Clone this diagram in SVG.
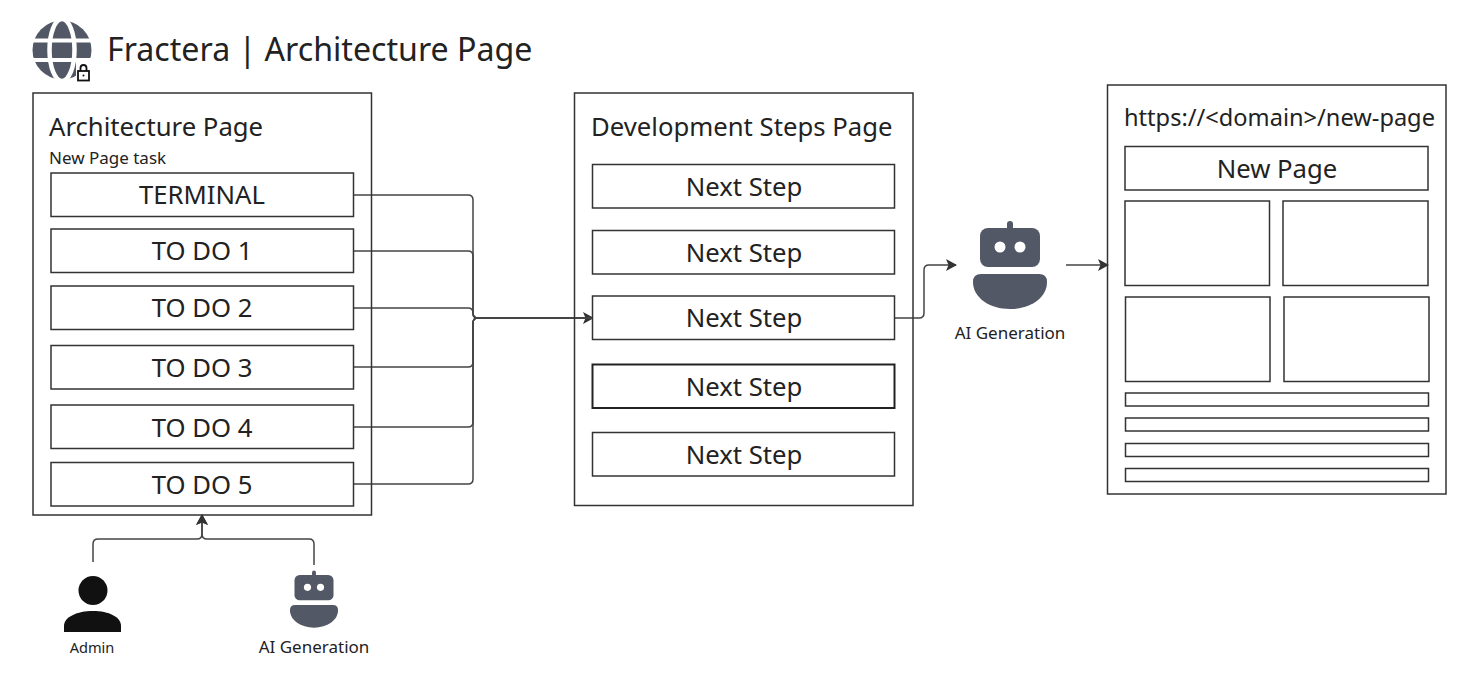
<svg xmlns="http://www.w3.org/2000/svg" width="1484" height="673" viewBox="0 0 1484 673">
<style>
text{font-family:"Noto Sans","Open Sans",sans-serif;fill:#222;}
.box{fill:#fff;stroke:#333;stroke-width:1.5;}
.m{text-anchor:middle;}
.t24{font-size:25.7px;}
.t25{font-size:25.7px;}
.t16{font-size:17px;}
.t14{font-size:14.600px;}
.c{fill:none;stroke:#444;stroke-width:1.5;}
</style>
<defs>
<marker id="a" markerWidth="11" markerHeight="12" refX="10" refY="6" orient="auto" markerUnits="userSpaceOnUse"><path d="M0 0L11 6L0 12L2.500 6Z" fill="#333"/></marker>
<g id="robot" fill="#525866">
<rect x="-3" y="-7" width="6" height="10" rx="3"/>
<rect x="-30" y="0" width="60" height="39" rx="8"/>
<circle cx="-10" cy="19" r="5.500" fill="#fff"/><circle cx="10" cy="19" r="5.500" fill="#fff"/>
<path d="M-29 46H29Q37 46 37 54C37 70 20 81 0 81C-20 81 -37 70 -37 54Q-37 46 -29 46Z"/>
</g>
</defs>
<rect width="1484" height="673" fill="#fff"/>
<g id="title">
<g fill="none">
<circle cx="62" cy="50" r="29.500" fill="#525866"/>
<ellipse cx="62" cy="50" rx="12.500" ry="31" stroke="#fff" stroke-width="4.500"/>
<path d="M30 40.500H94M30 60H94" stroke="#fff" stroke-width="4"/>
</g>
<rect x="76" y="62" width="15" height="21" fill="#fff"/>
<g fill="none" stroke="#111" stroke-width="1.800"><rect x="78" y="71" width="11" height="9.500"/><path d="M80.500 71V68Q80.500 65 83.500 65T86.500 68V71"/></g>
<circle cx="83.500" cy="75.500" r="1" fill="#111"/>
<text x="107" y="61" font-size="32.150">Fractera | Architecture Page</text>
</g>
<g id="connectors">
<path class="c" d="M354 195H468Q473 195 473 200V313Q473 318 478 318H593" marker-end="url(#a)"/>
<path class="c" d="M354 251H468Q473 251 473 256V313Q473 318 478 318H593"/>
<path class="c" d="M354 308H468Q473 308 473 313Q473 318 478 318H593"/>
<path class="c" d="M354 367H468Q473 367 473 362V323Q473 318 478 318H593"/>
<path class="c" d="M354 427H468Q473 427 473 422V323Q473 318 478 318H593"/>
<path class="c" d="M354 484H468Q473 484 473 479V323Q473 318 478 318H593"/>
<path class="c" d="M895 318H919Q924 318 924 313V270Q924 265 929 265H956" marker-end="url(#a)"/>
<path class="c" d="M1066 265H1108" marker-end="url(#a)"/>
<path class="c" d="M93 562V544Q93 539 98 539H197Q202 539 202 534V515" marker-end="url(#a)"/>
<path class="c" d="M314 565V544Q314 539 309 539H207Q202 539 202 534V515" marker-end="url(#a)"/>
</g>
<g id="architecture-page">
<rect class="box" x="33" y="93" width="338.500" height="422" fill-opacity="0"/>
<text x="49" y="136" class="t25">Architecture Page</text>
<text x="49" y="164" class="t16">New Page task</text>
</g>
<g id="terminal"><rect class="box" x="51" y="173" width="302.500" height="43.500"/><text x="202" y="204" class="t24 m">TERMINAL</text></g>
<g id="todo1"><rect class="box" x="51" y="229" width="302.500" height="43.500"/><text x="202" y="259.500" class="t24 m">TO DO 1</text></g>
<g id="todo2"><rect class="box" x="51" y="286" width="302.500" height="43.500"/><text x="202" y="316.500" class="t24 m">TO DO 2</text></g>
<g id="todo3"><rect class="box" x="51" y="345.500" width="302.500" height="43.500"/><text x="202" y="376.500" class="t24 m">TO DO 3</text></g>
<g id="todo4"><rect class="box" x="51" y="405" width="302.500" height="43.500"/><text x="202" y="436.500" class="t24 m">TO DO 4</text></g>
<g id="todo5"><rect class="box" x="51" y="462.500" width="302.500" height="43.500"/><text x="202" y="493.500" class="t24 m">TO DO 5</text></g>
<g id="development-steps-page">
<rect class="box" x="574.500" y="93" width="338.500" height="412.500" fill-opacity="0"/>
<text x="591" y="136" class="t25">Development Steps Page</text>
</g>
<g id="step1"><rect class="box" x="592.500" y="164.500" width="302" height="43.500"/><text x="744" y="195.500" class="t24 m">Next Step</text></g>
<g id="step2"><rect class="box" x="592.500" y="230.500" width="302" height="43.500"/><text x="744" y="261.500" class="t24 m">Next Step</text></g>
<g id="step3"><rect class="box" x="592.500" y="296" width="302" height="43.500"/><text x="744" y="326.500" class="t24 m">Next Step</text></g>
<g id="step4"><rect class="box" x="592.500" y="364.500" width="302" height="43.500" style="stroke:#222;stroke-width:2"/><text x="744" y="395.500" class="t24 m">Next Step</text></g>
<g id="step5"><rect class="box" x="592.500" y="432.500" width="302" height="43.500"/><text x="744" y="463.500" class="t24 m">Next Step</text></g>
<g id="ai-generation-main"><use href="#robot" x="1010" y="228"/><text x="1010" y="339" class="t16 m">AI Generation</text></g>
<g id="new-page">
<rect class="box" x="1107.500" y="85" width="338.500" height="409" fill-opacity="0"/>
<text x="1124" y="126" style="font-size:23.600px">https://&lt;domain&gt;/new-page</text>
<g id="new-page-title"><rect class="box" x="1125" y="146.500" width="303" height="43.500"/><text x="1277" y="178" class="t25 m">New Page</text></g>
<rect class="box" x="1125" y="201" width="144.500" height="84.500"/>
<rect class="box" x="1283" y="201" width="145" height="84.500"/>
<rect class="box" x="1125.500" y="297" width="144.500" height="84.500"/>
<rect class="box" x="1284" y="297" width="145" height="84.500"/>
<rect class="box" x="1125.500" y="393" width="303" height="13"/>
<rect class="box" x="1125.500" y="418" width="303" height="13"/>
<rect class="box" x="1125.500" y="443.500" width="303" height="13"/>
<rect class="box" x="1125.500" y="468.500" width="303" height="13"/>
</g>
<g id="admin">
<circle cx="93" cy="590.500" r="14.500" fill="#111"/>
<path d="M64 632V626C64 617 77 611 93 611S121 617 121 626V632Z" fill="#111"/>
<text x="92" y="653" class="t14 m">Admin</text>
</g>
<g id="ai-generation-small"><use href="#robot" transform="translate(314 575) scale(0.65)"/><text x="314" y="653" class="t16 m">AI Generation</text></g>
</svg>
